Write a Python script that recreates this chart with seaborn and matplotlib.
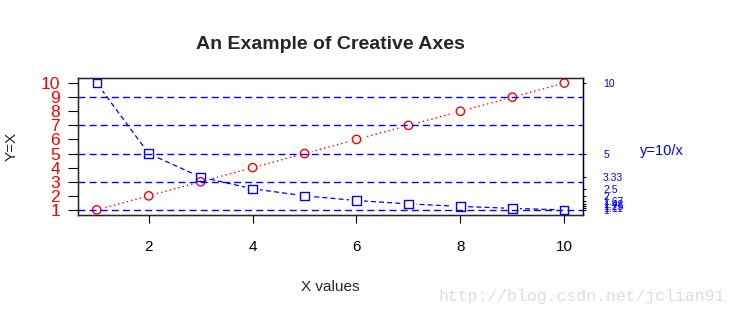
import matplotlib
matplotlib.use("Agg")
import matplotlib.pyplot as plt
import seaborn as sns
import pandas as pd

# ---- data ----
x_vals = [1, 2, 3, 4, 5, 6, 7, 8, 9, 10]
y_vals = [1, 2, 3, 4, 5, 6, 7, 8, 9, 10]            # y = x
z_vals = [10.0, 5.0, 3.333, 2.5, 2.0, 1.667, 1.429, 1.25, 1.111, 1.0]  # y = 10/x
left_ticks = [1, 2, 3, 4, 5, 6, 7, 8, 9, 10]
right_labels = ["10", "5", "3.33", "2.5", "2", "1.67", "1.43", "1.25", "1.11", "1"]
x_ticks = [2, 4, 6, 8, 10]
hline_levels = [1, 3, 5, 7, 9]

title_text = "An Example of Creative Axes"
xlabel_text = "X values"
ylabel_text = "Y=X"
right_title = "y=10/x"
watermark = "http://blog.csdn.net/jclian91"

df = pd.DataFrame({"x": x_vals, "y": y_vals, "z": z_vals})

sns.set_style("ticks")
plt.rcParams["font.family"] = ["Liberation Sans", "DejaVu Sans"]

fig = plt.figure(figsize=(7.39, 3.15), dpi=100)
ax = fig.add_axes([78 / 739, 1 - 215 / 315, (583 - 78) / 739, (215 - 78) / 315])

# connecting lines
sns.lineplot(data=df, x="x", y="y", ax=ax, color="red", lw=1.0,
             linestyle=(0, (1, 2.2)), zorder=1)
sns.lineplot(data=df, x="x", y="z", ax=ax, color="blue", lw=0.9,
             linestyle=(0, (4, 2.5)), zorder=1)

# white halos to create type="b" gaps
sns.scatterplot(data=df, x="x", y="y", ax=ax, marker="o", s=130,
                color="white", edgecolor="none", zorder=2)
sns.scatterplot(data=df, x="x", y="z", ax=ax, marker="s", s=130,
                color="white", edgecolor="none", zorder=2)

# hollow markers
sns.scatterplot(data=df, x="x", y="y", ax=ax, marker="o", s=36,
                facecolor="none", edgecolor="red", linewidth=1.0, zorder=3)
sns.scatterplot(data=df, x="x", y="z", ax=ax, marker="s", s=36,
                facecolor="none", edgecolor="blue", linewidth=1.0, zorder=3)

# horizontal reference lines
for h in hline_levels:
    ax.axhline(h, color="blue", lw=1.0, linestyle=(0, (5, 3)), zorder=4)

ax.set_xlim(0.64, 10.36)
ax.set_ylim(0.64, 10.36)

for s in ax.spines.values():
    s.set_visible(True)
    s.set_color("black")
    s.set_linewidth(1.0)

ax.set_xticks(x_ticks)
ax.set_xticklabels([str(t) for t in x_ticks])
ax.tick_params(axis="x", length=6, width=0.8, pad=12, labelsize=11, colors="black")

ax.set_yticks(left_ticks)
ax.set_yticklabels([str(t) for t in left_ticks], color="red")
ax.tick_params(axis="y", length=7, width=0.8, pad=6, labelsize=12.5,
               labelcolor="red", color="black")

ax.set_xlabel(xlabel_text, fontsize=11, labelpad=19)
ax.set_ylabel(ylabel_text, fontsize=11, labelpad=16)
ax.set_title(title_text, fontsize=14, fontweight="bold", pad=21)

# right axis
ax2 = ax.twinx()
ax2.set_ylim(ax.get_ylim())
ax2.set_yticks(z_vals)
ax2.set_yticklabels(right_labels)
ax2.tick_params(axis="y", length=2.5, width=0.8, pad=12, labelsize=7.5,
                labelcolor="blue", color="black")
ax2.spines["right"].set_visible(True)
ax2.spines["right"].set_color("black")
ax2.text(1.113, 0.47, right_title, transform=ax.transAxes, color="blue",
         fontsize=10.5, ha="left", va="center")

fig.text(0.981, 0.058, watermark, color="#dedede", fontsize=11.9,
         family=["Liberation Mono", "DejaVu Sans Mono"], ha="right", va="center")

fig.savefig("out.png", dpi=100, facecolor="white")
